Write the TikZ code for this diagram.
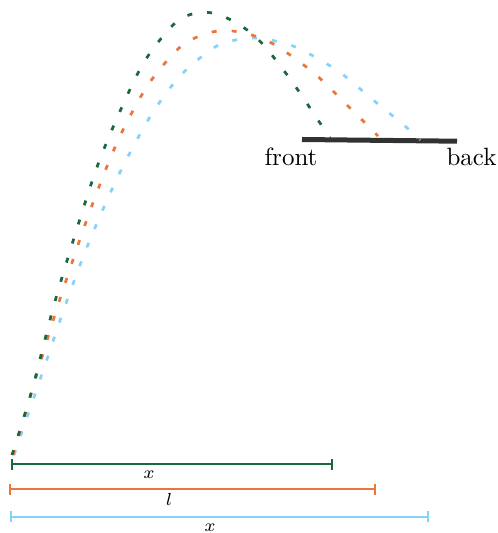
\documentclass[tikz,border=0pt]{standalone}
\usetikzlibrary{arrows.meta}
\definecolor{cgreen}{RGB}{27,104,62}
\definecolor{corange}{RGB}{234,118,60}
\definecolor{cblue}{RGB}{135,210,248}
\definecolor{cbar}{RGB}{50,50,50}
\tikzset{
  traj/.style={line width=1.1pt, dash pattern=on 2pt off 6pt},
  seg/.style={line width=0.8pt, {Bar[width=4.4pt]}-{Bar[width=4.4pt]}},
  lab/.style={font=\scriptsize, inner sep=0pt},
  word/.style={font=\normalsize, inner sep=0pt, anchor=base}
}
\begin{document}
\begin{tikzpicture}[x=0.4pt,y=-0.4pt]
\useasboundingbox (0,0) rectangle (498,533);
% bar
\coordinate (b1) at (302,139.5);
\coordinate (b2) at (457,141.2);
\draw[line width=2pt, cbar] (b1) -- (b2);
\node[word] (front) at (291,165.7) {front};
\node[word] (back) at (471.5,165.7) {back};
% trajectories
\coordinate (gs) at (12,455);
\coordinate (ge) at (330,138);
\coordinate (os) at (13,455);
\coordinate (oe) at (378,136);
\coordinate (bs) at (14,455);
\coordinate (be) at (420,140);
\draw[traj, cblue] plot[smooth, tension=0.55] coordinates {(bs) (43,371) (64,309) (87,247) (113,187) (133,147) (155,109) (182,74) (215,47) (236,40) (258,38) (279,42) (300,49) (338,71) (372,99) (406,127) (be)};
\draw[traj, corange] plot[smooth, tension=0.55] coordinates {(os) (39,367) (58,305) (86,222) (110,159) (128,120) (150,82) (178,49) (197,37) (218,31) (240,32) (260,38) (280,48) (315,74) (347,105) (oe)};
\draw[traj, cgreen] plot[smooth, tension=0.55] coordinates {(gs) (32,390) (54,305) (79,222) (100,159) (126,98) (146,59) (173,25) (192,14) (213,13) (233,21) (251,33) (267,49) (293,83) (318,120) (ge)};
% distances
\coordinate (g1) at (11,464.3);
\coordinate (g2) at (333,464.3);
\coordinate (o1) at (9.3,489.3);
\coordinate (o2) at (375.7,489.3);
\coordinate (c1) at (10,516.7);
\coordinate (c2) at (429,516.7);
\draw[seg, cgreen] (g1) -- (g2);
\draw[seg, corange] (o1) -- (o2);
\draw[seg, cblue] (c1) -- (c2);
\node[lab] (gx) at (149,475) {$x$};
\node[lab] (ol) at (169,499.5) {$l$};
\node[lab] (cx) at (210,528) {$x$};
\end{tikzpicture}
\end{document}
